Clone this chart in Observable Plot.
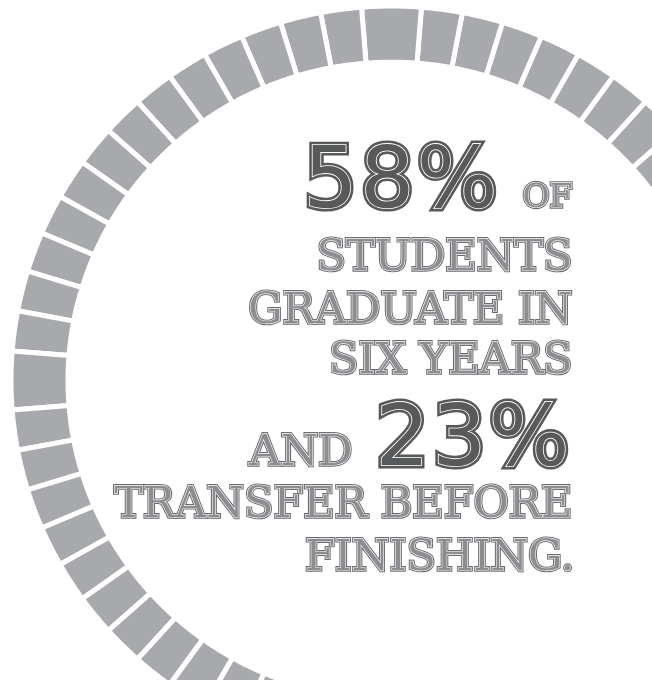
<!DOCTYPE html>
<html>
<head>
<meta charset="utf-8">
<script src="https://cdn.jsdelivr.net/npm/d3@7"></script>
<script src="https://cdn.jsdelivr.net/npm/@observablehq/plot@0.6"></script>
<style>
  html, body { margin: 0; padding: 0; background: #ffffff; }
  #chart svg { display: block; text-rendering: geometricPrecision; will-change: transform; }
</style>
</head>
<body>
<div id="chart"></div>
<script>
// ---- data ----
// The ring is an open arc: it starts off-picture on the right and ends off-picture at the bottom.
const arcQuadrants = ["right", "top", "left"];                   // quadrants drawn, each led by a wide tick
const quadrantAngles = [0, 90, 180];                              // centre angle of each wide tick (deg)
const tickWeights = [1.45, 1, 1, 1, 1, 1, 1, 1, 1, 1, 1, 1, 1, 1]; // wide tick + 13 regular ticks per quadrant
const stats = ["58%", "23%"];
const words = ["OF", "STUDENTS", "GRADUATE IN", "SIX YEARS", "AND", "TRANSFER BEFORE", "FINISHING."];

// ---- layout ----
const W = 652, H = 680;
const cx = 391, cy = 380;                      // ring centre (px)
const Rx = 378, Ry = 372;                      // outer radius, horizontal / vertical (px)
const gap = 5;                                 // white gap between ticks (px)
const outerR = 1 + gap / 2 / Rx;               // ring radii in ring units (outer = 1)
const innerR = 326 / Rx - gap / 2 / Rx;
const ringColor = "#a7a9ac";

// ---- build ring segments from the tick weights ----
const unit = 90 / d3.sum(tickWeights);
const segPoints = [];
let id = 0;
arcQuadrants.forEach((q, qi) => {
  let a = quadrantAngles[qi] - tickWeights[0] * unit / 2;
  tickWeights.forEach(w => {
    const a0 = a, a1 = a + w * unit, n = 16;
    for (let k = 0; k <= n; k++) {
      const t = (a0 + (a1 - a0) * k / n) * Math.PI / 180;
      segPoints.push({id, x: Math.cos(t) * outerR, y: Math.sin(t) * outerR});
    }
    for (let k = n; k >= 0; k--) {
      const t = (a0 + (a1 - a0) * k / n) * Math.PI / 180;
      segPoints.push({id, x: Math.cos(t) * innerR, y: Math.sin(t) * innerR});
    }
    id++;
    a = a1;
  });
});

// ---- inline ("college") lettering: outer band, white inline, inner fill ----
function inlineText(str, o) {
  const base = {
    frameAnchor: "top-left", dx: o.x, dy: o.y, text: d => d,
    textAnchor: "end", lineAnchor: "bottom",
    fontSize: o.size, fontFamily: o.family, fontWeight: o.weight || "normal"
  };
  return [
    Plot.text([str], {...base, fill: o.outer, stroke: o.outer, strokeWidth: 2 * (o.line + o.band), strokeLinejoin: "miter"}),
    Plot.text([str], {...base, fill: "none", stroke: "#ffffff", strokeWidth: 2 * o.line, strokeLinejoin: "miter"}),
    Plot.text([str], {...base, fill: o.inner, stroke: "none"})
  ];
}
const numStyle = {size: 85, family: "DejaVu Sans", outer: "#58595b", inner: "#58595b", line: 0.8, band: 2.6};
const slabStyle = {size: 43, family: "DejaVu Serif", outer: "#6d6e71", inner: "#8c8d90", line: 0.6, band: 1.1};
const numSpacing = 2.5;                        // extra tracking of the big figures (px)

const right = 572;
const marks = [
  Plot.line(segPoints, {x: "x", y: "y", z: "id", fill: ringColor, stroke: "#ffffff",
    strokeWidth: gap, strokeLinejoin: "miter", curve: "linear-closed"}),
  ...inlineText(stats[0], {...numStyle, x: 497 + numSpacing, y: 206}),
  ...inlineText(words[0], {...slabStyle, size: 33, x: right, y: 206}),
  ...inlineText(words[1], {...slabStyle, x: right, y: 269}),
  ...inlineText(words[2], {...slabStyle, x: right, y: 322}),
  ...inlineText(words[3], {...slabStyle, x: right, y: 372}),
  ...inlineText(words[4], {...slabStyle, x: 352, y: 464}),
  ...inlineText(stats[1], {...numStyle, x: 569 + numSpacing, y: 464}),
  ...inlineText(words[5], {...slabStyle, x: right, y: 516}),
  ...inlineText(words[6], {...slabStyle, x: right + 2, y: 569})
];

const chart = Plot.plot({
  width: W, height: H,
  margin: 0,
  x: {domain: [(0 - cx) / Rx, (W - cx) / Rx], axis: null},
  y: {domain: [(cy - H) / Ry, cy / Ry], axis: null},
  style: {background: "#ffffff", overflow: "hidden"},
  marks
});
// track the big figures a little wider, as in the original lettering
d3.select(chart).selectAll("text").filter(function () { return stats.includes(this.textContent); })
  .style("letter-spacing", numSpacing + "px");
document.getElementById("chart").appendChild(chart);
</script>
</body>
</html>
